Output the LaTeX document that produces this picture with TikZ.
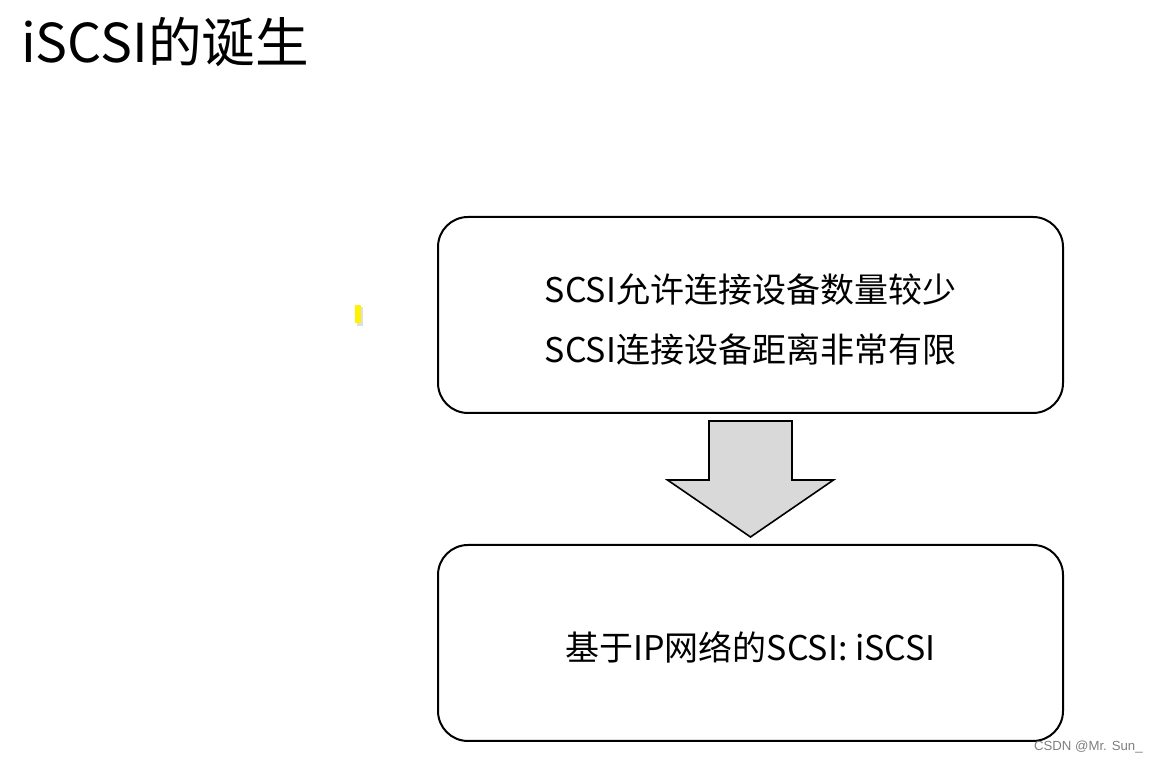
\documentclass[tikz,border=0pt]{standalone}
\usepackage{fontspec}
\setmainfont{Noto Sans CJK SC}
\newfontfamily\wmfont{Liberation Sans}
\usetikzlibrary{calc}

\definecolor{arrowgray}{RGB}{217,217,217}
\tikzset{
  box/.style={draw=black, line width=1pt, rounded corners=15pt,
    minimum width=312.5pt, minimum height=98pt, align=left,
    text depth=2pt, font=\fontsize{17}{30}\selectfont},
  blockarrow/.style={draw=black, line width=0.8pt, fill=arrowgray},
}

\begin{document}
\begin{tikzpicture}[x=0.5pt,y=-0.5pt]
\useasboundingbox[fill=white] (0,0) rectangle (1157,763);

\node[anchor=west, font=\fontsize{26.8}{30}\selectfont] (title) at (14,42) {iSCSI的诞生};

\node[box, text height=50pt] (limits) at (750.5,315) {SCSI允许连接设备数量较少\\SCSI连接设备距离非常有限};
\node[box, text height=20pt] (iscsi) at (750.5,643) {基于IP网络的SCSI: iSCSI};

\coordinate (T) at ($(limits.south)+(0,7)$);
\coordinate (H) at ($(iscsi.north)+(0,-7)$);

\draw[blockarrow] ($(T)+(-41.5,0)$) -- ($(T)+(41.5,0)$) -- ($(T)+(41.5,59)$)
  -- ($(T)+(83,59)$) -- (H) -- ($(T)+(-83,59)$) -- ($(T)+(-41.5,59)$) -- cycle;

\fill[gray!25] (357,307) rectangle (363,326);
\fill[yellow] (355,305) rectangle (361,323);

\node[anchor=east, inner sep=0pt, text=gray, font=\wmfont\fontsize{6.6}{8}\selectfont] (mark) at (1143,747) {CSDN @Mr. Sun\_};

\end{tikzpicture}
\end{document}
